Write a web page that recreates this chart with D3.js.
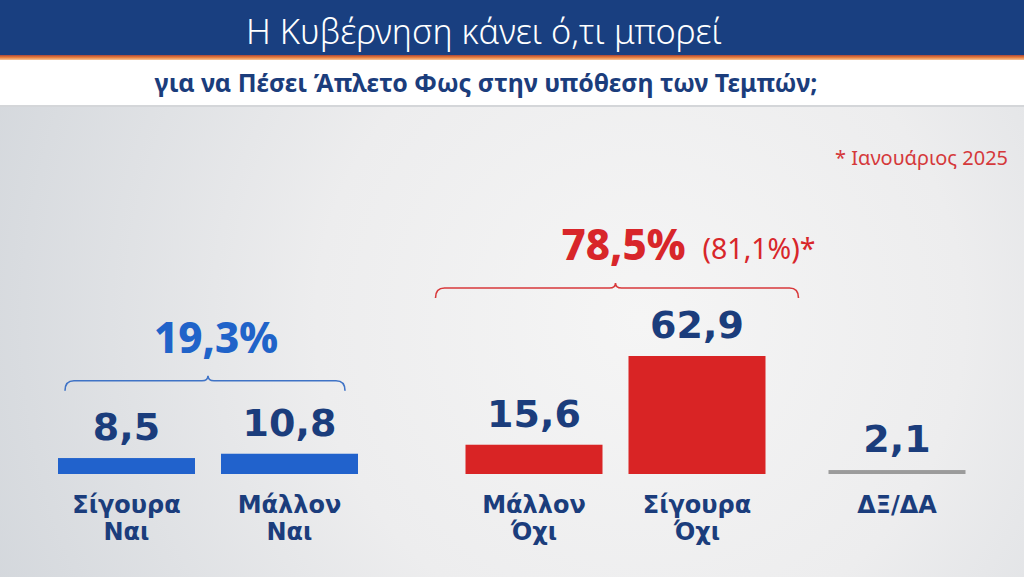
<!DOCTYPE html>
<html>
<head>
<meta charset="utf-8">
<script src="https://cdn.jsdelivr.net/npm/d3@7"></script>
<style>
html,body{margin:0;padding:0;background:#fff;}
svg{display:block;}
text{font-family:"Noto Sans","Open Sans",sans-serif;}
</style>
</head>
<body>
<svg id="chart" width="1024" height="577"></svg>
<script>
// ---- data ----
const titleText = "Η Κυβέρνηση κάνει ό,τι μπορεί";
const subtitleText = "για να Πέσει Άπλετο Φως στην υπόθεση των Τεμπών;";
const categories = ["Σίγουρα Ναι", "Μάλλον Ναι", "Μάλλον Όχι", "Σίγουρα Όχι", "ΔΞ/ΔΑ"];
const values = [8.5, 10.8, 15.6, 62.9, 2.1];
const valueLabels = ["8,5", "10,8", "15,6", "62,9", "2,1"];
const groups = ["yes", "yes", "no", "no", "dk"];
const groupNames = ["yes", "no"];
const groupTotals = ["19,3%", "78,5%"];
const groupPrevious = ["", "(81,1%)*"];
const noteText = "* Ιανουάριος 2025";

// ---- styles ----
const W = 1024, H = 577;
const colors = {yes: "#2162cc", no: "#d92425", dk: "#9b9b9b"};
const bracketColors = {yes: "#3f73c6", no: "#d8393b"};
const totalColors = {yes: "#2063c9", no: "#d8262a"};
const navy = "#1b3d7c";
const heavy = '"DejaVu Sans", "Noto Sans", sans-serif';

const svg = d3.select("#chart");
const defs = svg.append("defs");

// background gradient
const rg = defs.append("radialGradient").attr("id", "bg")
  .attr("gradientUnits", "userSpaceOnUse")
  .attr("cx", 640).attr("cy", 320).attr("r", 720);
rg.append("stop").attr("offset", "0%").attr("stop-color", "#f5f5f5");
rg.append("stop").attr("offset", "45%").attr("stop-color", "#ededee");
rg.append("stop").attr("offset", "100%").attr("stop-color", "#d2d6db");
svg.append("rect").attr("x", 0).attr("y", 0).attr("width", W).attr("height", H).attr("fill", "url(#bg)");

// header
svg.append("rect").attr("x", 0).attr("y", 0).attr("width", W).attr("height", 56).attr("fill", "#193f80");
const og = defs.append("linearGradient").attr("id", "stripe").attr("x1", 0).attr("y1", 0).attr("x2", 0).attr("y2", 1);
og.append("stop").attr("offset", "0%").attr("stop-color", "#a9463a");
og.append("stop").attr("offset", "50%").attr("stop-color", "#e9803e");
og.append("stop").attr("offset", "100%").attr("stop-color", "#f7c9a0");
svg.append("rect").attr("x", 0).attr("y", 55).attr("width", W).attr("height", 5).attr("fill", "url(#stripe)");
svg.append("rect").attr("x", 0).attr("y", 60).attr("width", W).attr("height", 46).attr("fill", "#ffffff");
svg.append("rect").attr("x", 0).attr("y", 105).attr("width", W).attr("height", 2).attr("fill", "#d4d6d9");

function fitText(sel, width) {
  const len = sel.node().getComputedTextLength();
  const fs = parseFloat(sel.attr("font-size"));
  sel.attr("font-size", fs * width / len);
}

const title = svg.append("text").attr("x", 484).attr("y", 44)
  .attr("text-anchor", "middle").attr("fill", "#ffffff")
  .attr("font-size", 30).attr("font-weight", 300).text(titleText);
fitText(title, 476);

const sub = svg.append("text").attr("x", 486).attr("y", 92)
  .attr("text-anchor", "middle").attr("fill", navy)
  .attr("font-size", 22).attr("font-weight", 700).text(subtitleText);
fitText(sub, 663);

const note = svg.append("text").attr("x", 1008).attr("y", 165).attr("text-anchor", "end")
  .attr("fill", "#d5393b").attr("font-size", 19).text(noteText);
fitText(note, 173);

// ---- scales ----
const groupGap = {yes: 0, no: 0.5, dk: 0.727};
const slots = categories.map((c, i) => i + groupGap[groups[i]]);
const x = d3.scaleLinear().domain([0, 1]).range([126.5, 289.5]);
const barW = 137;
const y = d3.scaleLinear().domain([0, 62.9]).range([474, 356]);

const data = categories.map((c, i) => ({cat: c, v: values[i], label: valueLabels[i], g: groups[i], cx: x(slots[i])}));

// bars
svg.append("g").selectAll("rect").data(data).join("rect")
  .attr("x", d => d.cx - barW / 2)
  .attr("y", d => y(d.v))
  .attr("width", barW)
  .attr("height", d => y(0) - y(d.v))
  .attr("fill", d => colors[d.g]);

// value labels
svg.append("g").selectAll("text").data(data).join("text")
  .attr("x", d => d.cx)
  .attr("y", d => y(d.v) - 18)
  .attr("text-anchor", "middle")
  .attr("fill", navy).attr("font-size", 38).attr("font-weight", 700)
  .style("font-family", heavy)
  .text(d => d.label);

// category labels (one text per line)
const lines = [];
data.forEach(d => d.cat.split(" ").forEach((t, i) => lines.push({t, cx: d.cx, i})));
svg.append("g").selectAll("text").data(lines).join("text")
  .attr("x", d => d.cx).attr("y", d => 513 + d.i * 27)
  .attr("text-anchor", "middle").attr("fill", navy)
  .attr("font-size", 24).attr("font-weight", 700)
  .style("font-family", heavy)
  .text(d => d.t);

// brackets + totals
const bracketPad = {yes: [-7, -13], no: [30, 33]};
groupNames.forEach((g, gi) => {
  const members = data.filter(d => d.g === g);
  const left = d3.min(members, d => d.cx - barW / 2) - bracketPad[g][0];
  const right = d3.max(members, d => d.cx + barW / 2) + bracketPad[g][1];
  const center = (d3.min(members, d => d.cx) + d3.max(members, d => d.cx)) / 2;
  const topY = d3.min(members, d => y(d.v));
  const by = topY - (g === "yes" ? 73 : 68);
  const p = d3.path();
  p.moveTo(left, by + 10);
  p.quadraticCurveTo(left, by, left + 9, by);
  p.lineTo(center - 6, by);
  p.quadraticCurveTo(center, by, center, by - 5);
  p.quadraticCurveTo(center, by, center + 6, by);
  p.lineTo(right - 9, by);
  p.quadraticCurveTo(right, by, right, by + 10);
  svg.append("path").attr("d", p.toString()).attr("fill", "none")
    .attr("stroke", bracketColors[g]).attr("stroke-width", 1.6);
  const tot = svg.append("text").attr("x", center + 8).attr("y", by - 28)
    .attr("text-anchor", "middle").attr("fill", totalColors[g])
    .attr("font-size", 42).attr("font-weight", 800).text(groupTotals[gi]);
  if (groupPrevious[gi]) {
    const bb = tot.node().getBBox();
    const prev = svg.append("text").attr("x", bb.x + bb.width + 17).attr("y", by - 29)
      .attr("fill", totalColors[g]).attr("font-size", 24).attr("font-weight", 400)
      .text(groupPrevious[gi]);
    fitText(prev, 113);
  }
});
</script>
</body>
</html>
